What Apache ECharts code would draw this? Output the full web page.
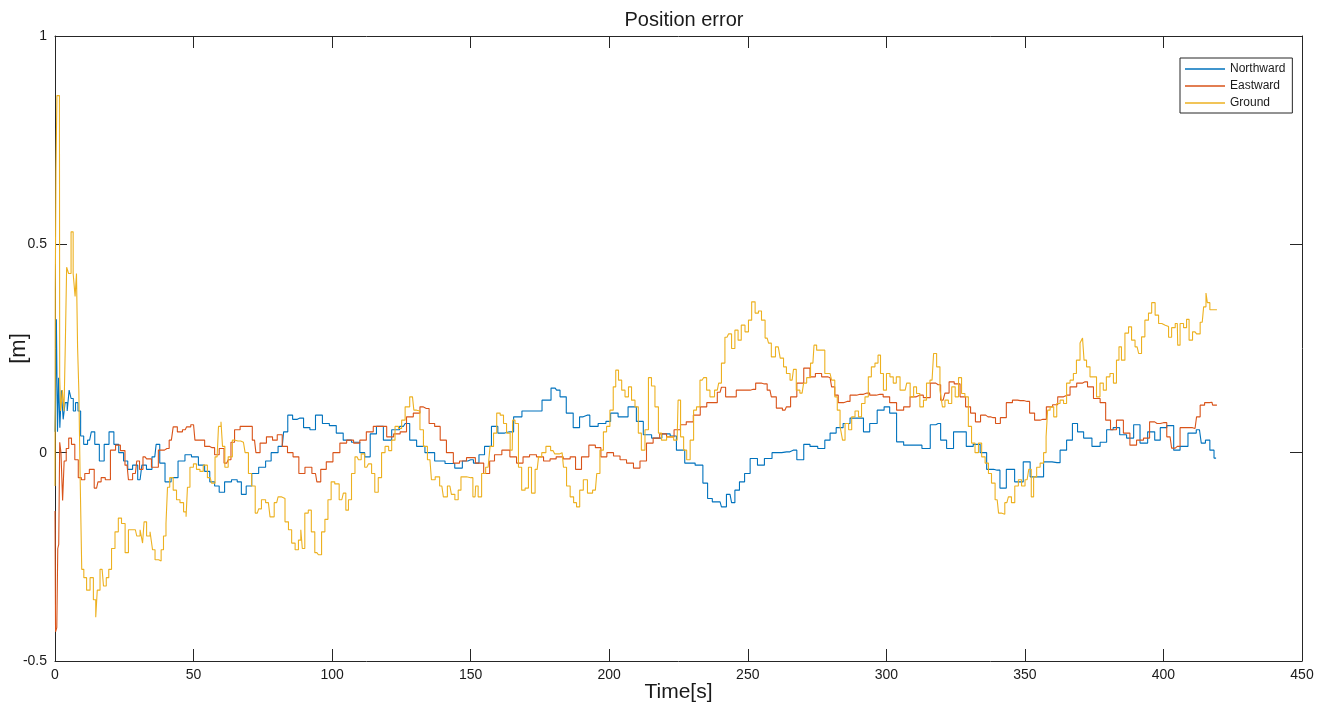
<!DOCTYPE html>
<html>
<head>
<meta charset="utf-8">
<script src="https://cdn.jsdelivr.net/npm/echarts@6/dist/echarts.min.js"></script>
<style>
html,body{margin:0;padding:0;background:#fff;}
#chart{width:1327px;height:707px;}
</style>
</head>
<body>
<div id="chart"></div>
<script>
const titleText = 'Position error';
const xName = 'Time[s]';
const yName = '[m]';
const seriesNames = ['Northward', 'Eastward', 'Ground'];

// [time (s), error (m)]
const northward = [[0,0.05],[0.3,0.1],[0.7,0.32],[1.1,0.05],[1.5,0.18],[2,0.06],[2.6,0.15],[3.3,0.08],[4,0.12],[4.8,0.1],[5.4,0.15],[6.2,0.13],[7,0.1],[7.8,0.12],[8.8,0.1],[9.7,0.04],[11,0.02],[12.5,0.03],[13.7,0.05],[15,0.02],[17,-0.02],[18.5,0.02],[20.5,0.05],[22,0.02],[24,0.0],[25.5,-0.02],[27,-0.04],[29,-0.03],[30.7,-0.065],[32,-0.03],[34,-0.04],[36,-0.01],[37,0.02],[38.6,-0.025],[40.8,-0.07],[43,-0.06],[45.8,-0.02],[48,-0.005],[50.5,-0.01],[53,-0.03],[55,-0.045],[56.7,-0.07],[58.5,-0.08],[60,-0.095],[62.4,-0.07],[65,-0.065],[66.5,-0.07],[68,-0.1],[70,-0.08],[72,-0.05],[75,-0.035],[77,-0.02],[79,0],[82,0.015],[83,0.05],[85,0.09],[86.5,0.08],[88.4,0.083],[91,0.06],[93,0.055],[95,0.09],[98,0.07],[100,0.065],[103,0.047],[105,0.03],[109,0.025],[111,0.0],[112.5,-0.01],[115,0.045],[117,0.063],[120,0.03],[123,0.055],[125.7,0.063],[127,0.07],[129,0.03],[132,0.015],[135,0],[139,-0.02],[142.5,-0.026],[146,-0.037],[148,-0.02],[150,-0.017],[152,-0.025],[154,-0.005],[156,0.015],[159,0.063],[160.6,0.047],[164,0.05],[167,0.086],[170,0.1],[174,0.1],[177.5,0.126],[180.5,0.155],[181.5,0.15],[183,0.134],[186,0.095],[188,0.06],[190.6,0.086],[192,0.09],[194,0.063],[198,0.07],[199.6,0.075],[201.4,0.095],[205,0.086],[208.6,0.11],[211,0.075],[213.6,0.043],[217,0.035],[221,0.045],[223,0.04],[225.5,0.006],[229,-0.025],[233,-0.03],[234.6,-0.073],[236.4,-0.11],[238,-0.118],[240,-0.118],[241,-0.13],[243.6,-0.1],[244.7,-0.12],[246,-0.09],[248,-0.07],[249.7,-0.05],[252,-0.014],[255,-0.03],[257,-0.014],[260.5,0],[264,0.002],[266.4,0.006],[269,-0.017],[271.4,0.02],[273.5,0.015],[277,0.01],[278.6,0.03],[280.8,0.047],[283,0.06],[285.8,0.07],[288,0.083],[290.5,0.083],[293,0.05],[295,0.07],[298.4,0.102],[300,0.11],[302.4,0.095],[305,0.026],[307.5,0.018],[311,0.018],[314.7,0.01],[317,0.067],[318.7,0.07],[320.5,0.03],[323,0.01],[325.5,0.05],[327.7,0.05],[330,0.015],[332.7,0.02],[335,0],[337.4,-0.04],[340,-0.042],[342,-0.085],[344.6,-0.04],[348,-0.07],[350.8,-0.022],[353,-0.058],[355.5,-0.058],[358,-0.022],[361.6,-0.024],[363.8,0.006],[366.3,0.03],[368,0.07],[370,0.05],[372.4,0.035],[376,0.015],[378.3,0.025],[380.7,0.055],[383,0.06],[385.4,0.043],[388,0.035],[390.5,0.067],[392.6,0.023],[396,0.05],[397.7,0.03],[400,0.06],[402.4,0.065],[405,0.006],[407,0.015],[410.7,0.047],[413,0.055],[414.3,0.023],[416,0.03],[417.5,0.006],[419,-0.013]];

const eastward = [[0,-0.14],[0.4,-0.43],[0.9,-0.42],[1.1,-0.23],[1.6,-0.22],[1.8,0.025],[2.5,0.0],[3,-0.115],[3.6,-0.02],[4.5,0.01],[5.4,0.035],[6.5,0.02],[7.8,-0.017],[9,-0.06],[10,-0.065],[11.5,-0.05],[13.3,-0.04],[15,-0.085],[16,-0.07],[17.3,-0.06],[19,-0.065],[21,0.006],[22.7,0.018],[24.5,0.005],[26,-0.03],[27,-0.065],[29,-0.05],[30,-0.02],[31,-0.04],[32.5,-0.01],[33.6,-0.015],[36,-0.035],[38.6,0.006],[40.4,0.01],[42,0.03],[43.3,0.062],[45,0.05],[47,0.055],[48,0.062],[50,0.067],[51,0.03],[53,0.03],[55,0.015],[56.7,0.012],[58.5,-0.005],[60,0.01],[62,-0.025],[63,-0.017],[64,0.025],[65.6,0.055],[68,0.063],[70.4,0.063],[72,0.03],[73,0],[75,0.023],[77.6,0.038],[79.4,0.03],[81,0.043],[83,0.015],[84.8,0],[87,-0.01],[89,-0.05],[91.4,-0.035],[94,-0.05],[95,-0.07],[96.8,-0.04],[99,-0.022],[101.6,0],[104,0.023],[106.5,0.03],[109,0.023],[111,0.03],[113.7,0.05],[116,0.063],[118.4,0.063],[121,0.038],[123.4,0.045],[125.7,0.05],[128,0.086],[130.6,0.095],[132.8,0.11],[134,0.106],[136,0.07],[138,0.063],[140,0.03],[142.5,0],[145,-0.025],[147,-0.02],[150,-0.012],[153.4,-0.025],[156,-0.05],[157.7,-0.02],[159.5,-0.005],[163,0.006],[165.3,-0.01],[167.8,-0.025],[170,-0.01],[172.5,-0.005],[175,-0.01],[177.6,-0.02],[179.7,-0.015],[182,-0.01],[184.8,-0.015],[187,-0.01],[188.7,-0.04],[191.3,-0.01],[194,0.018],[196,0.012],[198,-0.01],[200.3,0.0],[202.8,-0.008],[205,-0.017],[207.5,-0.025],[210,-0.037],[212.2,-0.02],[214.7,0.023],[217,0.035],[219.4,0.045],[222,0.038],[224.8,0.055],[226.6,0.067],[229,0.074],[231.7,0.09],[234,0.11],[236.4,0.12],[238,0.12],[240,0.145],[241,0.157],[243,0.134],[244.7,0.134],[247,0.15],[249.7,0.15],[252,0.152],[253.7,0.167],[256,0.165],[258,0.15],[259,0.134],[261.6,0.107],[263.4,0.102],[264.5,0.11],[266.4,0.134],[269,0.167],[271.4,0.203],[273.5,0.182],[275.3,0.19],[278,0.182],[279.7,0.18],[280.8,0.158],[282,0.138],[283.3,0.12],[285.8,0.123],[288,0.138],[290.5,0.14],[293,0.143],[295,0.138],[297.7,0.14],[300,0.134],[302.4,0.12],[305,0.102],[307.5,0.11],[309.6,0.134],[312,0.138],[314.7,0.132],[317,0.167],[318.7,0.163],[320.5,0.126],[321.8,0.143],[323.5,0.17],[325.5,0.165],[327.7,0.134],[329.5,0.11],[331.3,0.095],[333,0.074],[335,0.09],[336.7,0.086],[338.5,0.084],[340.3,0.07],[342,0.084],[344.6,0.12],[346.4,0.126],[348.3,0.125],[350.8,0.123],[352.6,0.095],[354.4,0.078],[356.5,0.08],[359,0.11],[361,0.115],[362.7,0.134],[365.2,0.138],[367.4,0.158],[370,0.167],[371.7,0.17],[373.5,0.158],[376,0.13],[378.3,0.12],[380,0.078],[381.8,0.055],[384.3,0.078],[386.8,0.047],[389,0.018],[391.6,0.03],[394,0.035],[396,0.074],[397.7,0.07],[400,0.072],[402.4,0.038],[403.5,0.011],[405,0.015],[407,0.06],[409.6,0.06],[411.4,0.058],[412.5,0.086],[414,0.114],[415.7,0.12],[417.5,0.121],[418,0.114],[419.3,0.114]];

const ground = [[0,-0.08],[0.2,0.39],[0.5,0.68],[0.9,0.857],[1.6,0.857],[1.8,0.18],[2.3,0.1],[3,0.15],[3.5,0.1],[4,0.27],[4.4,0.445],[5.4,0.43],[6.2,0.53],[6.9,0.43],[7.6,0.375],[7.9,0.43],[8.4,0.253],[8.8,0.15],[9.3,-0.05],[10,-0.28],[10.8,-0.3],[12,-0.33],[13.3,-0.3],[14.4,-0.353],[15,-0.395],[15.5,-0.33],[17,-0.28],[18,-0.32],[19,-0.3],[19.8,-0.28],[21,-0.23],[22.3,-0.19],[23.4,-0.157],[24.6,-0.17],[26,-0.24],[27,-0.185],[29,-0.185],[30,-0.2],[31.4,-0.185],[31.8,-0.217],[32.5,-0.166],[33.6,-0.2],[35,-0.19],[35.4,-0.233],[36.8,-0.257],[38,-0.26],[38.6,-0.233],[39.7,-0.2],[40.4,-0.17],[40.8,-0.083],[42,-0.06],[43.3,-0.09],[44.4,-0.113],[45.8,-0.12],[47,-0.142],[47.6,-0.154],[48,-0.083],[49.4,-0.035],[50.5,-0.027],[51.6,-0.04],[53,-0.045],[54,-0.03],[56,-0.06],[57,-0.073],[58.5,-0.01],[59.5,0.063],[60.3,0.074],[60.6,0.015],[62,-0.035],[63,-0.01],[65,0.03],[66,0.028],[68,0.025],[69.2,0],[70.4,-0.05],[71.5,-0.08],[73,-0.145],[74,-0.135],[75,-0.113],[77,-0.12],[78.2,-0.154],[80,-0.12],[81,-0.106],[82.3,-0.11],[83.7,-0.166],[84.8,-0.185],[86,-0.217],[87.3,-0.233],[88.4,-0.21],[89,-0.185],[89.5,-0.23],[90.8,-0.145],[92,-0.138],[93,-0.19],[94.5,-0.24],[95.6,-0.245],[96.8,-0.19],[98,-0.16],[99,-0.113],[100.3,-0.07],[101.6,-0.075],[103.5,-0.113],[104.6,-0.097],[105.3,-0.138],[106.5,-0.113],[107.5,-0.05],[109,-0.01],[110,-0.017],[111,-0.003],[112.5,-0.035],[113.7,-0.027],[114.8,-0.05],[116,-0.095],[117.3,-0.06],[118.4,0],[119.8,0.015],[121,0.005],[122,0.03],[123.4,0.063],[124.5,0.058],[125.7,0.078],[127,0.11],[129,0.134],[130,0.102],[131,0.1],[132.4,0.055],[133.5,0.015],[135.3,-0.017],[136.4,-0.065],[138,-0.058],[139.6,-0.08],[140.7,-0.106],[142.5,-0.08],[143.6,-0.1],[145,-0.113],[146,-0.09],[147,-0.058],[150,-0.06],[151.6,-0.106],[152,-0.08],[153.4,-0.106],[154.5,-0.05],[156.3,-0.035],[157.7,0.015],[158.8,0.047],[160,0.095],[161.3,0.09],[162.4,0.07],[163.5,0.047],[165,0.006],[165.3,0.078],[166.7,0.07],[167.8,-0.035],[169,-0.09],[170.3,-0.085],[171.4,-0.035],[172.5,-0.097],[174,-0.04],[175,-0.01],[176.3,0],[178,0.015],[179.7,0.005],[181,-0.003],[183,0],[184,-0.035],[185.2,-0.08],[186.6,-0.106],[187.7,-0.12],[188.7,-0.13],[190,-0.09],[191.3,-0.065],[193,-0.097],[195,-0.09],[196,-0.05],[197.3,0.006],[198.5,0.05],[199.6,0.063],[200.9,0.102],[202,0.158],[202.7,0.198],[204,0.174],[205,0.15],[206.4,0.134],[207.5,0.158],[208.6,0.126],[210,0.11],[211,0.047],[212.2,0.006],[213.6,0.055],[214.7,0.18],[215.8,0.16],[217.2,0.11],[218.3,0.047],[219.4,0.03],[222,0.038],[224.5,0.03],[225.2,0.126],[226.3,0.038],[227.4,0.006],[228.5,-0.017],[229.9,0.03],[231,0.102],[232,0.11],[233.5,0.174],[234.6,0.18],[235.7,0.15],[237,0.134],[239,0.15],[240,0.167],[241,0.215],[242.5,0.277],[243.6,0.285],[244.7,0.25],[246,0.294],[247,0.27],[248.3,0.306],[249.7,0.29],[250.8,0.318],[252,0.362],[253.3,0.335],[254.4,0.34],[255.5,0.318],[257,0.275],[258,0.263],[259,0.23],[261,0.254],[262.4,0.227],[263.4,0.206],[264.5,0.19],[266,0.174],[267,0.2],[268,0.15],[269.6,0.143],[270.7,0.167],[271.8,0.18],[273.5,0.215],[274.3,0.258],[275.4,0.246],[277,0.246],[278.6,0.19],[279.7,0.19],[280.8,0.174],[282,0.134],[282.6,0.102],[284,0.063],[284.4,0.03],[285.8,0.07],[287,0.055],[288,0.086],[289.4,0.1],[290.5,0.086],[291.6,0.118],[293,0.134],[294,0.182],[295.2,0.206],[296.6,0.215],[297.4,0.234],[298.4,0.19],[299.5,0.15],[300.6,0.19],[302,0.182],[303,0.167],[304.2,0.182],[305.7,0.15],[306.8,0.15],[307.9,0.167],[309.3,0.134],[310.4,0.158],[311.4,0.142],[312.8,0.11],[314,0.126],[315,0.167],[316.5,0.174],[317.6,0.238],[318.7,0.206],[320,0.15],[320.5,0.11],[321.8,0.126],[323,0.118],[324.2,0.158],[325.5,0.134],[326.6,0.18],[327.7,0.142],[329,0.134],[330.2,0.063],[331.3,0.023],[332.7,0.0],[333.8,0.023],[335,-0.01],[336.3,-0.025],[337.4,-0.05],[338.5,-0.073],[340,-0.113],[341,-0.145],[342,-0.148],[343.5,-0.12],[344.6,-0.106],[345.7,-0.12],[347,-0.08],[348.3,-0.065],[349.3,-0.08],[350.8,-0.065],[352,-0.04],[352.6,-0.106],[353.7,-0.058],[354.8,-0.035],[356.2,-0.025],[357.3,0],[358,0.038],[358.4,0.102],[359.8,0.11],[361,0.086],[362,0.118],[363.4,0.126],[364.5,0.118],[365.6,0.167],[367,0.174],[368,0.19],[369.2,0.222],[370.6,0.263],[371,0.275],[371.7,0.222],[372.8,0.206],[374.2,0.182],[375.3,0.182],[376.4,0.134],[377.8,0.167],[378.8,0.15],[380,0.182],[381.4,0.19],[382.5,0.167],[383.6,0.222],[384.3,0.254],[385.4,0.222],[386.8,0.287],[388,0.302],[389,0.27],[390.5,0.254],[391.6,0.238],[392.6,0.278],[394,0.318],[395.2,0.335],[396.3,0.36],[397.7,0.33],[398.8,0.31],[400,0.306],[401.3,0.303],[402.4,0.277],[403.5,0.3],[405,0.31],[405.3,0.258],[406.7,0.31],[407.8,0.3],[408.9,0.32],[409.6,0.27],[411.4,0.29],[412.5,0.285],[414,0.313],[415,0.35],[415.7,0.383],[416,0.36],[417.5,0.343],[419.3,0.343]];

const xTicks = {min: 0, max: 450, interval: 50};
const yTicks = {min: -0.5, max: 1, interval: 0.5};
const colors = ['#0072BD', '#D95319', '#EDB120'];

const axisColor = '#262626';
const fontMain = "'Liberation Sans', Arial, sans-serif";

const chart = echarts.init(document.getElementById('chart'), null, {renderer: 'canvas'});

function axisCommon(showLabels) {
  return {
    axisLine: {show: true, onZero: false, lineStyle: {color: axisColor, width: 1}},
    axisTick: {show: true, inside: true, length: 12, lineStyle: {color: axisColor, width: 1}},
    splitLine: {show: false},
    axisLabel: {show: showLabels, color: '#1a1a1a', fontFamily: fontMain, fontSize: 14},
    nameMoveOverlap: false
  };
}

const option = {
  animation: false,
  backgroundColor: '#fff',
  color: colors,
  title: {
    text: titleText,
    left: 679, top: 5,
    textAlign: 'center',
    textStyle: {fontFamily: fontMain, fontSize: 20, fontWeight: 'normal', color: '#1a1a1a'}
  },
  legend: {
    orient: 'vertical',
    left: 1180, top: 58,
    padding: [4, 7, 3, 5],
    itemGap: 3,
    itemWidth: 40,
    itemHeight: 1.5,
    icon: 'rect',
    borderColor: axisColor,
    borderWidth: 1,
    backgroundColor: '#fff',
    textStyle: {fontFamily: fontMain, fontSize: 12, color: '#1a1a1a', lineHeight: 14},
    data: seriesNames
  },
  grid: {left: 55, right: 25, top: 36, bottom: 46, containLabel: false, outerBoundsMode: 'none'},
  xAxis: [
    Object.assign(axisCommon(true), {
      type: 'value', position: 'bottom',
      min: xTicks.min, max: xTicks.max, interval: xTicks.interval,
      name: xName, nameLocation: 'middle', nameGap: 21,
      nameTextStyle: {fontFamily: fontMain, fontSize: 21, color: '#1a1a1a', verticalAlign: 'top'},
    }),
    Object.assign(axisCommon(false), {
      type: 'value', position: 'top',
      min: xTicks.min, max: xTicks.max, interval: xTicks.interval,
    })
  ],
  yAxis: [
    Object.assign(axisCommon(true), {
      type: 'value', position: 'left',
      min: yTicks.min, max: yTicks.max, interval: yTicks.interval,
      name: yName, nameLocation: 'middle', nameGap: 25, nameRotate: 90,
      nameTextStyle: {fontFamily: fontMain, fontSize: 22, color: '#1a1a1a', verticalAlign: 'bottom'},
    }),
    Object.assign(axisCommon(false), {
      type: 'value', position: 'right',
      min: yTicks.min, max: yTicks.max, interval: yTicks.interval,
    })
  ],
  series: [northward, eastward, ground].map((d, i) => ({
    name: seriesNames[i],
    type: 'line',
    data: d,
    step: 'middle',
    showSymbol: false,
    symbol: 'none',
    lineStyle: {width: 1.1, color: colors[i]},
    xAxisIndex: 0, yAxisIndex: 0,
    z: 2 + i
  }))
};
option.xAxis[0].axisLabel.margin = 7;
option.yAxis[0].axisLabel.margin = 8;
chart.setOption(option);
</script>
</body>
</html>
